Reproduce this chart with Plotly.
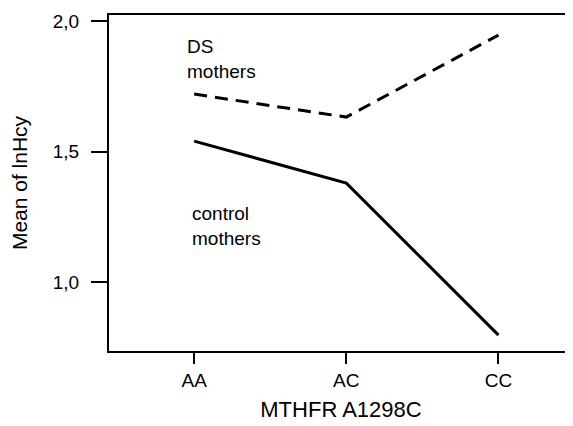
import plotly.graph_objects as go

categories = ["AA", "AC", "CC"]
ds_mothers = [1.720, 1.632, 1.946]
control_mothers = [1.540, 1.379, 0.797]
y_ticks = [1.0, 1.5, 2.0]

FONT = "Liberation Sans, Arial, sans-serif"

fig = go.Figure()
fig.add_trace(go.Scatter(x=[0, 1, 2], y=ds_mothers, mode="lines",
                         line=dict(color="black", width=3, dash="13px,8px"),
                         showlegend=False))
fig.add_trace(go.Scatter(x=[0, 1, 2], y=control_mothers, mode="lines",
                         line=dict(color="black", width=3),
                         showlegend=False))

fig.add_annotation(x=-0.06, y=1.854, xref="x", yref="y", text="DS<br>mothers",
                   showarrow=False, xanchor="left", yanchor="middle", align="left",
                   font=dict(family=FONT, size=19, color="black"))
fig.add_annotation(x=-0.03, y=1.215, xref="x", yref="y", text="control<br>mothers",
                   showarrow=False, xanchor="left", yanchor="middle", align="left",
                   font=dict(family=FONT, size=19, color="black"))

# page body adds an 8px offset, so the figure is sized/positioned to compensate
fig.update_layout(
    width=565, height=418,
    margin=dict(l=101, r=0, t=7, b=75),
    paper_bgcolor="white", plot_bgcolor="white",
    separators=",.",
    font=dict(family=FONT, color="black"),
    xaxis=dict(range=[-0.56, 2.49], tickmode="array", tickvals=[0, 1, 2],
               ticktext=categories, ticks="outside", ticklen=11, tickwidth=1.5,
               tickcolor="black", showgrid=False, zeroline=False,
               showline=True, linecolor="black", linewidth=2, mirror=True,
               tickfont=dict(size=19),
               title=dict(text="MTHFR A1298C", font=dict(size=22), standoff=12)),
    yaxis=dict(range=[0.736, 2.023], tickmode="array", tickvals=y_ticks,
               tickformat=".1f", ticks="outside", ticklen=16, tickwidth=1.5,
               tickcolor="black", showgrid=False, zeroline=False,
               showline=True, linecolor="black", linewidth=2, mirror=False,
               tickfont=dict(size=19), ticklabelstandoff=8,
               title=dict(text="Mean of lnHcy", font=dict(size=21), standoff=22)),
)

fig.write_html("out.html")
